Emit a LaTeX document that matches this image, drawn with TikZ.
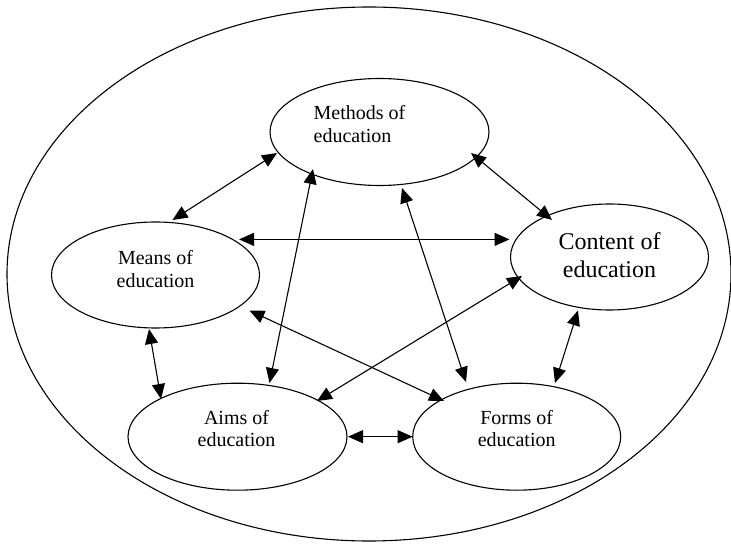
\documentclass[tikz,border=0pt]{standalone}
\usepackage{fontspec}
\setmainfont{Liberation Serif}
\usetikzlibrary{arrows.meta,calc,shapes.geometric}

\begin{document}
\begin{tikzpicture}[x=1pt,y=1pt,
  topic/.style={ellipse, draw, line width=1.1pt, inner sep=0pt},
  caption/.style={inner sep=0pt, align=center, font=\fontsize{20}{22.5}\selectfont},
  bigcaption/.style={inner sep=0pt, align=center, font=\fontsize{24}{28}\selectfont},
  link/.style={{Triangle[length=15pt,width=13pt]}-{Triangle[length=15pt,width=13pt]}, line width=1.1pt}]

  \useasboundingbox (0,0) rectangle (731,544);

  % enclosing frame
  \draw[line width=1.1pt] (369,270) ellipse [x radius=362, y radius=267];

  % the five components
  \node[topic, minimum width=219pt, minimum height=107pt] (methods) at (379.5,412) {};
  \node[topic, minimum width=208pt, minimum height=106pt] (means)   at (155.5,269) {};
  \node[topic, minimum width=198pt, minimum height=106pt] (content) at (609.5,287) {};
  \node[topic, minimum width=219pt, minimum height=107pt] (aims)    at (237.5,107.3) {};
  \node[topic, minimum width=208pt, minimum height=107pt] (forms)   at (516.7,107.3) {};

  % their captions
  \node[caption, anchor=west, align=left] (methods-t) at ($(methods)+(-66,8)$) {Methods of\\education};
  \node[caption] (means-t)   at ($(means)+(0,6)$)   {Means of\\education};
  \node[bigcaption] (content-t) at ($(content)+(0,2)$) {Content of\\education};
  \node[caption] (aims-t)    at ($(aims)+(-1,8)$)   {Aims of\\education};
  \node[caption] (forms-t)   at ($(forms)+(0,8)$)   {Forms of\\education};

  % mutual links
  \draw[link] ($(methods)+(-102.5,-21)$) -- ($(means)+(17,55)$);
  \draw[link] ($(methods)+(91.5,-21)$)   -- ($(content)+(-57.5,37)$);
  \draw[link] ($(means)+(83.5,35.6)$)    -- ($(content)+(-100,17.6)$);
  \draw[link] ($(methods)+(-66.5,-37)$)  -- ($(aims)+(32,53.7)$);
  \draw[link] ($(methods)+(22.5,-56)$)   -- ($(forms)+(-50.7,54.7)$);
  \draw[link] ($(means)+(93.9,-35.5)$)   -- ($(forms)+(-72.7,35.7)$);
  \draw[link] ($(content)+(-87.5,-19)$)  -- ($(aims)+(79.5,35.7)$);
  \draw[link] ($(content)+(-31.5,-53.5)$) -- ($(forms)+(38.3,53.7)$);
  \draw[link] ($(means)+(-6.5,-54)$)     -- ($(aims)+(-76.5,37.7)$);
  \draw[link] ($(aims)+(110.5,0)$)       -- ($(forms)+(-104.1,0)$);
\end{tikzpicture}
\end{document}
